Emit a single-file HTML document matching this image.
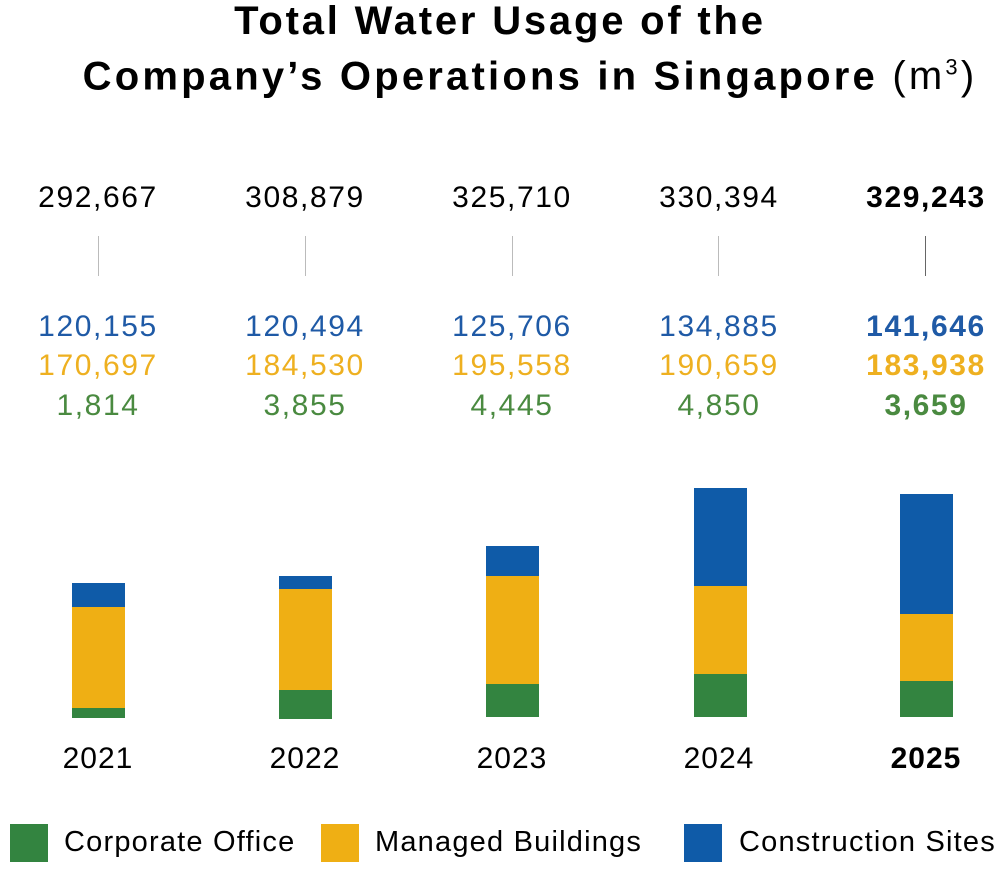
<!DOCTYPE html>
<html><head><style>
body{margin:0;width:1000px;height:873px;background:#fff;font-family:"Liberation Sans",sans-serif;position:relative;overflow:hidden}
.a{position:absolute;white-space:nowrap}
.t{font-weight:bold;font-size:40px;letter-spacing:2.8px;color:#000;text-align:center;width:1000px;left:0;line-height:46px}
.n{font-size:30px;letter-spacing:1.6px;width:180px;text-align:center}
.b{position:absolute}
.l{font-size:29px;letter-spacing:1.2px}
</style></head><body>
<div class="a t" style="top:-2px;left:0">Total Water Usage of the</div>
<div class="a t" style="top:45px;left:30px;letter-spacing:3.2px">Company’s Operations in Singapore <span style="font-weight:normal">(m<sup style="font-size:22px">3</sup>)</span></div>

<div class="a n" style="left:8px;top:181px">292,667</div>
<div class="a n" style="left:215px;top:181px">308,879</div>
<div class="a n" style="left:422px;top:181px">325,710</div>
<div class="a n" style="left:629px;top:181px">330,394</div>
<div class="a n" style="left:836px;top:181px;font-weight:bold">329,243</div>

<div class="b" style="left:98px;top:236px;width:1px;height:40px;background:#bbb"></div>
<div class="b" style="left:305px;top:236px;width:1px;height:40px;background:#bbb"></div>
<div class="b" style="left:512px;top:236px;width:1px;height:40px;background:#bbb"></div>
<div class="b" style="left:718px;top:236px;width:1px;height:40px;background:#bbb"></div>
<div class="b" style="left:925px;top:236px;width:1px;height:40px;background:#666"></div>

<div class="a n" style="left:8px;top:310px;color:#1f5aa6">120,155</div>
<div class="a n" style="left:215px;top:310px;color:#1f5aa6">120,494</div>
<div class="a n" style="left:422px;top:310px;color:#1f5aa6">125,706</div>
<div class="a n" style="left:629px;top:310px;color:#1f5aa6">134,885</div>
<div class="a n" style="left:836px;top:310px;color:#1f5aa6;font-weight:bold">141,646</div>
<div class="a n" style="left:8px;top:349px;color:#eeb020">170,697</div>
<div class="a n" style="left:215px;top:349px;color:#eeb020">184,530</div>
<div class="a n" style="left:422px;top:349px;color:#eeb020">195,558</div>
<div class="a n" style="left:629px;top:349px;color:#eeb020">190,659</div>
<div class="a n" style="left:836px;top:349px;color:#eeb020;font-weight:bold">183,938</div>
<div class="a n" style="left:8px;top:389px;color:#4a8a40">1,814</div>
<div class="a n" style="left:215px;top:389px;color:#4a8a40">3,855</div>
<div class="a n" style="left:422px;top:389px;color:#4a8a40">4,445</div>
<div class="a n" style="left:629px;top:389px;color:#4a8a40">4,850</div>
<div class="a n" style="left:836px;top:389px;color:#4a8a40;font-weight:bold">3,659</div>

<div class="b" style="left:72px;width:53px;top:583px;height:24px;background:#0f5ba8"></div>
<div class="b" style="left:72px;width:53px;top:607px;height:101px;background:#efaf14"></div>
<div class="b" style="left:72px;width:53px;top:708px;height:10px;background:#338440"></div>

<div class="b" style="left:279px;width:53px;top:576px;height:13px;background:#0f5ba8"></div>
<div class="b" style="left:279px;width:53px;top:589px;height:101px;background:#efaf14"></div>
<div class="b" style="left:279px;width:53px;top:690px;height:29px;background:#338440"></div>

<div class="b" style="left:486px;width:53px;top:546px;height:30px;background:#0f5ba8"></div>
<div class="b" style="left:486px;width:53px;top:576px;height:108px;background:#efaf14"></div>
<div class="b" style="left:486px;width:53px;top:684px;height:33px;background:#338440"></div>

<div class="b" style="left:694px;width:53px;top:488px;height:98px;background:#0f5ba8"></div>
<div class="b" style="left:694px;width:53px;top:586px;height:88px;background:#efaf14"></div>
<div class="b" style="left:694px;width:53px;top:674px;height:43px;background:#338440"></div>

<div class="b" style="left:900px;width:53px;top:494px;height:120px;background:#0f5ba8"></div>
<div class="b" style="left:900px;width:53px;top:614px;height:67px;background:#efaf14"></div>
<div class="b" style="left:900px;width:53px;top:681px;height:36px;background:#338440"></div>

<div class="a n" style="left:8px;top:742px;letter-spacing:1px">2021</div>
<div class="a n" style="left:215px;top:742px;letter-spacing:1px">2022</div>
<div class="a n" style="left:422px;top:742px;letter-spacing:1px">2023</div>
<div class="a n" style="left:629px;top:742px;letter-spacing:1px">2024</div>
<div class="a n" style="left:836px;top:742px;font-weight:bold;letter-spacing:1px">2025</div>

<div class="b" style="left:10px;top:824px;width:38px;height:38px;background:#338440"></div>
<div class="a l" style="left:64px;top:826px">Corporate Office</div>
<div class="b" style="left:321px;top:824px;width:38px;height:38px;background:#efaf14"></div>
<div class="a l" style="left:375px;top:826px">Managed Buildings</div>
<div class="b" style="left:684px;top:824px;width:38px;height:38px;background:#0f5ba8"></div>
<div class="a l" style="left:739px;top:826px">Construction Sites</div>
</body></html>
